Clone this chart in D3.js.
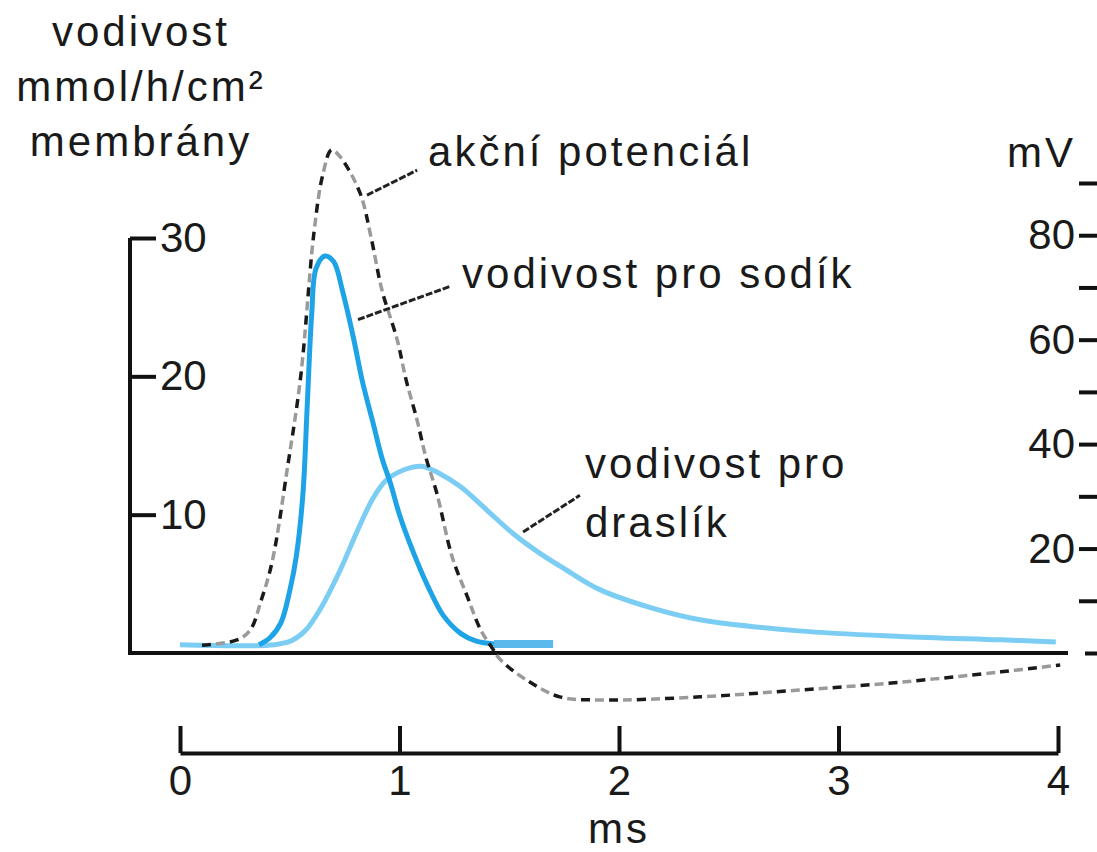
<!DOCTYPE html>
<html>
<head>
<meta charset="utf-8">
<script src="https://cdn.jsdelivr.net/npm/d3@7"></script>
<style>
  body { margin: 0; background: #fff; }
  svg { display: block; font-family: "Liberation Sans", Arial, Helvetica, sans-serif; }
  .axis path, .axis line { stroke: #111; stroke-width: 4; }
  .axis text { font-size: 42px; fill: #1a1a1a; font-family: "Liberation Sans", Arial, sans-serif; }
  .lbl { font-size: 42px; fill: #1a1a1a; letter-spacing: 3px; }
</style>
</head>
<body>
<svg width="1097" height="852"></svg>
<script>
// time in ms
var sodiumT = [0, 0.36, 0.41, 0.46, 0.50, 0.53, 0.56, 0.58, 0.60, 0.62, 0.66, 0.70, 0.74, 0.79, 0.83, 0.88, 0.92, 0.96, 1.00, 1.06, 1.13, 1.20, 1.28, 1.35, 1.43, 1.70];
var sodiumG = [0.6, 0.6, 1.1, 2.2, 4.5, 7.0, 11.5, 18, 24.5, 27.8, 28.7, 28.3, 26.2, 22.8, 19.7, 16.6, 14.1, 12.2, 10.0, 7.4, 4.8, 2.7, 1.4, 0.85, 0.65, 0.65];

var potassiumT = [0, 0.43, 0.51, 0.57, 0.64, 0.73, 0.81, 0.88, 0.94, 1.03, 1.10, 1.18, 1.28, 1.40, 1.52, 1.64, 1.76, 1.91, 2.14, 2.37, 2.82, 3.28, 3.74, 3.99];
var potassiumG = [0.6, 0.6, 0.9, 1.6, 3.2, 6.0, 8.9, 11.2, 12.5, 13.3, 13.5, 13.0, 12.0, 10.3, 8.6, 7.2, 6.0, 4.6, 3.3, 2.4, 1.6, 1.2, 0.95, 0.8];

// membrane potential in mV
var apT = [0.10, 0.26, 0.32, 0.37, 0.42, 0.49, 0.55, 0.61, 0.65, 0.69, 0.73, 0.82, 0.87, 0.92, 0.99, 1.03, 1.08, 1.12, 1.17, 1.24, 1.31, 1.37, 1.42, 1.46, 1.58, 1.73, 1.91, 2.37, 2.82, 3.28, 3.74, 4.01];
var apV = [1.5, 2.5, 4.4, 10.1, 17.5, 35.6, 53, 80.4, 91.5, 96.3, 95.0, 88.1, 79.7, 69.5, 59.9, 52.3, 44.6, 37.5, 30.6, 18.4, 10.7, 4.4, 1.1, -1.3, -5.2, -8.4, -9.0, -8.4, -7.1, -5.6, -3.6, -2.3];

var gTicks = [10, 20, 30];
var mvTicks = [0, 10, 20, 30, 40, 50, 60, 70, 80, 90];
var mvLabels = [20, 40, 60, 80];
var msTicks = [0, 1, 2, 3, 4];

var svg = d3.select("svg");

var x = d3.scaleLinear().domain([0, 4]).range([180, 1058]);
var yG = d3.scaleLinear().domain([0, 30]).range([653, 238]);
var yV = d3.scaleLinear().domain([0, 90]).range([653, 183]);

function zip(a, b) { return a.map(function (d, i) { return [d, b[i]]; }); }

// left axis (conductance)
svg.append("g")
    .attr("class", "axis")
    .attr("transform", "translate(130,0)")
    .call(d3.axisRight(yG).tickValues(gTicks).tickSizeInner(26).tickSizeOuter(0).tickPadding(4).tickFormat(d3.format("d")))
    .call(function (g) { g.select(".domain").attr("d", "M0," + yG(30) + "V" + (yG(0) + 2)); });

// baseline
svg.append("line")
    .attr("x1", 128).attr("x2", x(4) + 10)
    .attr("y1", yG(0)).attr("y2", yG(0))
    .attr("stroke", "#111").attr("stroke-width", 4);

// right axis (mV)
var rAxis = svg.append("g")
    .attr("class", "axis")
    .attr("transform", "translate(1097,0)")
    .call(d3.axisLeft(yV).tickValues(mvTicks).tickSizeInner(18).tickSizeOuter(0).tickPadding(4)
        .tickFormat(function (d) { return mvLabels.indexOf(d) >= 0 ? d : ""; }));
rAxis.select(".domain").remove();
rAxis.selectAll(".tick").filter(function (d) { return d === 0; }).select("line").attr("x2", -12);

// bottom time axis
svg.append("g")
    .attr("class", "axis")
    .attr("transform", "translate(0,753)")
    .call(d3.axisBottom(x).tickValues(msTicks).tickSizeInner(-27).tickSizeOuter(0).tickPadding(12).tickFormat(d3.format("d")));

// curves
var curve = d3.curveCatmullRom.alpha(0.5);
var lineG = d3.line().x(function (d) { return x(d[0]); }).y(function (d) { return yG(d[1]); }).curve(curve);
var lineV = d3.line().x(function (d) { return x(d[0]); }).y(function (d) { return yV(d[1]); }).curve(curve);

var na = zip(sodiumT, sodiumG);
var k = zip(potassiumT, potassiumG);
var ap = zip(apT, apV);

svg.append("path").datum(k)
    .attr("d", lineG).attr("fill", "none")
    .attr("stroke", "#7ccdf3").attr("stroke-width", 5);

svg.append("path").datum(na.filter(function (d) { return d[0] >= 1.43; }))
    .attr("d", lineG).attr("fill", "none")
    .attr("stroke", "#5cb9ec").attr("stroke-width", 8);

svg.append("path").datum(na.filter(function (d) { return d[0] >= 0.36 && d[0] <= 1.43; }))
    .attr("d", lineG).attr("fill", "none")
    .attr("stroke", "#1ea4e6").attr("stroke-width", 5);

// action potential: alternating grey / black dashes
svg.append("path").datum(ap)
    .attr("d", lineV).attr("fill", "none")
    .attr("stroke", "#9a9a9a").attr("stroke-width", 3.5)
    .attr("stroke-dasharray", "9,19").attr("stroke-dashoffset", -14);
svg.append("path").datum(ap)
    .attr("d", lineV).attr("fill", "none")
    .attr("stroke", "#1a1a1a").attr("stroke-width", 3.5)
    .attr("stroke-dasharray", "9,19");

// annotations: leader from curve to label, in data units (ms, conductance)
var leaders = [
    { from: [0.852, 33.1], to: [1.08, 34.9] },
    { from: [0.811, 24.1], to: [1.23, 26.5] },
    { from: [1.563, 8.75], to: [1.822, 11.4] }
];
svg.selectAll(".leader").data(leaders).enter().append("line")
    .attr("class", "leader")
    .attr("x1", function (d) { return x(d.from[0]); })
    .attr("y1", function (d) { return yG(d.from[1]); })
    .attr("x2", function (d) { return x(d.to[0]); })
    .attr("y2", function (d) { return yG(d.to[1]); })
    .attr("stroke", "#222").attr("stroke-width", 3)
    .attr("stroke-dasharray", "7,2");

var labels = [
    { t: 1.13, g: 35.2, text: "akční potenciál" },
    { t: 1.285, g: 26.4, text: "vodivost pro sodík" },
    { t: 1.845, g: 12.65, text: "vodivost pro" },
    { t: 1.845, g: 8.4, text: "draslík" }
];
svg.selectAll(".ann").data(labels).enter().append("text")
    .attr("class", "lbl")
    .attr("x", function (d) { return x(d.t); })
    .attr("y", function (d) { return yG(d.g); })
    .text(function (d) { return d.text; });

// axis titles
var yTitle = ["vodivost", "mmol/h/cm²", "membrány"];
svg.selectAll(".ytitle").data(yTitle).enter().append("text")
    .attr("class", "lbl")
    .attr("x", 141)
    .attr("y", function (d, i) { return 46 + i * 55; })
    .attr("text-anchor", "middle")
    .text(function (d) { return d; });

svg.append("text").attr("class", "lbl")
    .attr("x", 1076).attr("y", 167).attr("text-anchor", "end")
    .text("mV");

svg.append("text").attr("class", "lbl")
    .attr("x", x(2)).attr("y", 843).attr("text-anchor", "middle")
    .text("ms");
</script>
</body>
</html>
